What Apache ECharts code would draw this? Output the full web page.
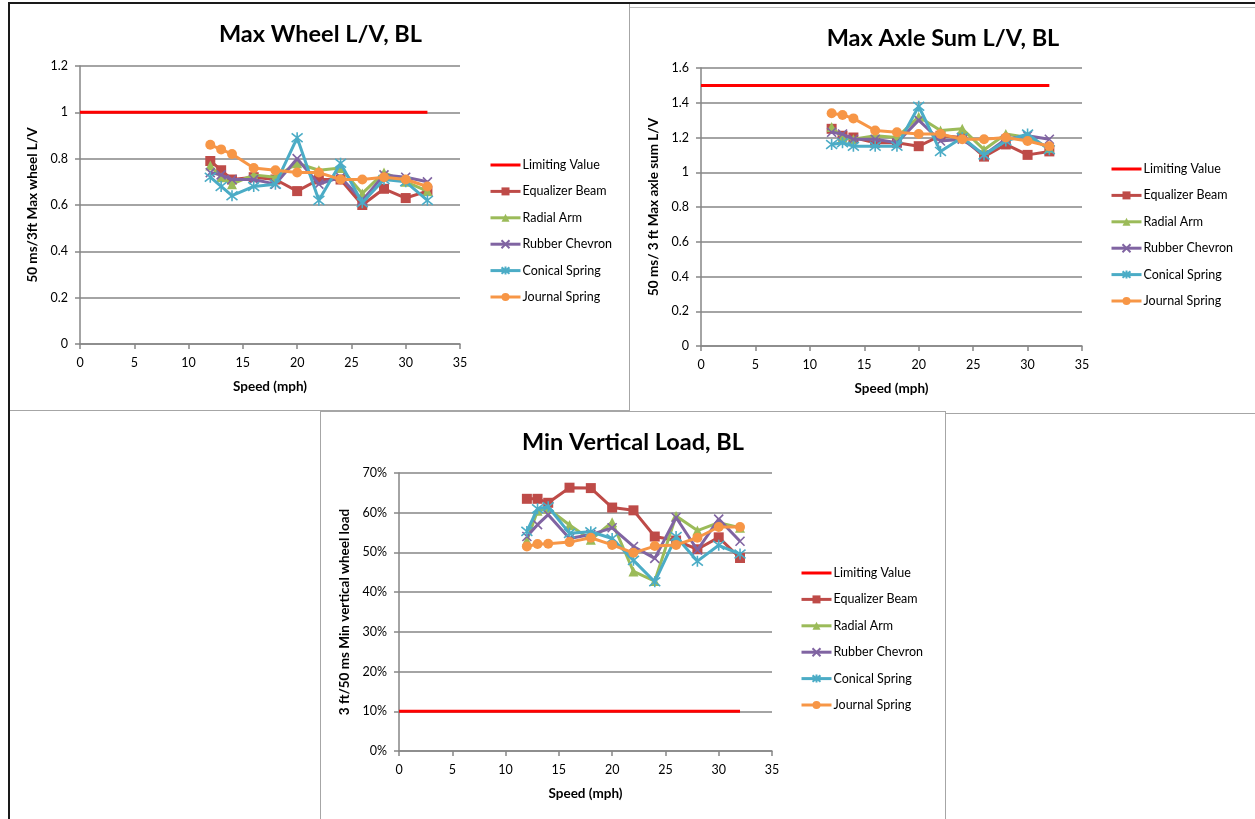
<!DOCTYPE html>
<html>
<head>
<meta charset="utf-8">
<title>Bogie ride quality, BL</title>
<script src="https://cdn.jsdelivr.net/npm/echarts@6/dist/echarts.min.js"></script>
<style>
  html, body { margin: 0; padding: 0; background: #fff; }
  body { width: 1255px; height: 819px; position: relative; overflow: hidden; }
  .chart { position: absolute; }
  .rule { position: absolute; }
</style>
</head>
<body>
<!-- sheet frame and chart object borders -->
<div class="rule" style="left:8px;top:2px;width:1247px;height:2px;background:#1a1a1a"></div>
<div class="rule" style="left:8px;top:2px;width:2px;height:817px;background:#1a1a1a"></div>
<div class="rule" style="left:629px;top:4px;width:1px;height:407px;background:#a6a6a6"></div>
<div class="rule" style="left:10px;top:410px;width:620px;height:1px;background:#a6a6a6"></div>
<div class="rule" style="left:630px;top:7px;width:625px;height:1px;background:#bdbdbd"></div>
<div class="rule" style="left:945px;top:413px;width:310px;height:1px;background:#a6a6a6"></div>
<div class="rule" style="left:320px;top:411px;width:626px;height:1px;background:#a6a6a6"></div>
<div class="rule" style="left:320px;top:411px;width:1px;height:408px;background:#a6a6a6"></div>
<div class="rule" style="left:945px;top:411px;width:1px;height:408px;background:#a6a6a6"></div>

<div id="wheel" class="chart" style="left:10px;top:4px;width:621px;height:405px"></div>
<div id="axle" class="chart" style="left:631px;top:8px;width:624px;height:404px"></div>
<div id="vload" class="chart" style="left:321px;top:412px;width:624px;height:407px"></div>

<script>
// Test speeds (mph) shared by every truck design
const speeds = [12, 13, 14, 16, 18, 20, 22, 24, 26, 28, 30, 32];
// The limit line is drawn from 0 to the top test speed
const limitSpeeds = [0, 32];

const seriesNames = ['Limiting Value', 'Equalizer Beam', 'Radial Arm', 'Rubber Chevron', 'Conical Spring', 'Journal Spring'];

// Max wheel L/V
const wheelLimit = 1.0;
const wheelEqualizer = [0.79, 0.75, 0.71, 0.72, 0.71, 0.66, 0.71, 0.71, 0.60, 0.67, 0.63, 0.66];
const wheelRadial    = [0.77, 0.72, 0.69, 0.73, 0.72, 0.78, 0.75, 0.76, 0.65, 0.74, 0.70, 0.66];
const wheelChevron   = [0.74, 0.73, 0.71, 0.71, 0.69, 0.80, 0.69, 0.72, 0.62, 0.73, 0.72, 0.70];
const wheelConical   = [0.72, 0.68, 0.64, 0.68, 0.69, 0.89, 0.62, 0.78, 0.61, 0.71, 0.70, 0.62];
const wheelJournal   = [0.86, 0.84, 0.82, 0.76, 0.75, 0.74, 0.74, 0.71, 0.71, 0.72, 0.71, 0.68];

// Max axle sum L/V
const axleLimit = 1.5;
const axleEqualizer = [1.25, 1.21, 1.20, 1.17, 1.17, 1.15, 1.21, 1.20, 1.09, 1.16, 1.10, 1.12];
const axleRadial    = [1.26, 1.20, 1.19, 1.21, 1.20, 1.32, 1.24, 1.25, 1.13, 1.22, 1.20, 1.14];
const axleChevron   = [1.23, 1.22, 1.19, 1.19, 1.17, 1.30, 1.18, 1.19, 1.10, 1.19, 1.21, 1.19];
const axleConical   = [1.16, 1.17, 1.15, 1.15, 1.15, 1.38, 1.12, 1.20, 1.10, 1.18, 1.22, 1.13];
const axleJournal   = [1.34, 1.33, 1.31, 1.24, 1.23, 1.22, 1.22, 1.19, 1.19, 1.20, 1.18, 1.15];

// Min vertical wheel load (% of static)
const loadLimit = 10;
const loadEqualizer = [63.5, 63.5, 62.5, 66.3, 66.2, 61.3, 60.6, 54.0, 53.0, 50.8, 53.8, 48.6];
const loadRadial    = [53.0, 60.5, 61.0, 56.9, 53.2, 57.6, 45.2, 42.8, 59.2, 55.5, 57.5, 56.2];
const loadChevron   = [54.0, 57.0, 59.5, 53.5, 54.5, 56.2, 51.5, 48.5, 58.8, 50.6, 58.4, 52.8];
const loadConical   = [55.3, 61.0, 61.5, 54.8, 55.2, 53.5, 48.0, 42.6, 54.0, 47.8, 51.8, 49.6];
const loadJournal   = [51.5, 52.1, 52.2, 52.6, 53.7, 51.9, 49.9, 51.6, 51.9, 53.7, 56.4, 56.4];

const FONT = 'Lato, "Liberation Sans", sans-serif';
const GRID_GRAY = '#868686';

// Office-style palette and markers per design
const designStyles = [
  { color: '#FF0000' },
  { color: '#BE4B48', symbol: 'rect', size: 10 },
  { color: '#9BBB59', symbol: 'triangle', size: 10 },
  { color: '#8064A2', symbol: 'path://M0,0L10,10M10,0L0,10', size: 9, stroke: true },
  { color: '#4BACC6', symbol: 'path://M0,1L10,9M10,1L0,9M5,0L5,10', size: 11, stroke: true },
  { color: '#F79646', symbol: 'circle', size: 10 }
];

function pairs(xs, ys) { return xs.map((x, i) => [x, ys[i]]); }

function buildSeries(limit, designs) {
  const list = [{
    name: seriesNames[0], type: 'line',
    data: pairs(limitSpeeds, [limit, limit]),
    symbol: 'none', lineStyle: { color: designStyles[0].color, width: 3 },
    itemStyle: { color: designStyles[0].color }, z: 2
  }];
  designs.forEach((vals, k) => {
    const st = designStyles[k + 1];
    list.push({
      name: seriesNames[k + 1], type: 'line',
      data: pairs(speeds, vals),
      symbol: st.symbol, symbolSize: st.size, showAllSymbol: true,
      lineStyle: { color: st.color, width: 3 },
      itemStyle: st.stroke
        ? { color: st.color, borderColor: st.color, borderWidth: 1.6 }
        : { color: st.color },
      z: 3 + k
    });
  });
  return list;
}

// Legend entries: the limit entry is a plain line with no marker
function legendData() {
  return seriesNames.map((n, i) => i === 0
    ? { name: n, itemStyle: { opacity: 0 } }
    : { name: n });
}

function buildOption(cfg) {
  return {
    animation: false,
    textStyle: { fontFamily: FONT },
    title: {
      text: cfg.title, left: 'center', top: 13,
      textStyle: { fontFamily: FONT, fontSize: 23.5, fontWeight: 'bold', color: '#000' }
    },
    grid: { left: cfg.gridLeft, top: cfg.gridTop, width: cfg.gridWidth, height: 278 },
    legend: {
      orient: 'vertical', left: 474, top: 149.5,
      itemWidth: 30, itemHeight: 10, itemGap: 13.4,
      data: legendData(),
      lineStyle: { width: 3 },
      textStyle: { fontFamily: FONT, fontSize: 12.5, color: '#000', padding: [0, 0, 0, -3] },
      selectedMode: false
    },
    xAxis: {
      type: 'value', min: 0, max: 35, interval: 5,
      name: 'Speed (mph)', nameLocation: 'middle', nameGap: 36,
      nameTextStyle: { fontFamily: FONT, fontSize: 13.5, fontWeight: 'bold', color: '#000' },
      axisLine: { show: true, lineStyle: { color: GRID_GRAY, width: 1.5 } },
      axisTick: { show: true, length: 5, lineStyle: { color: GRID_GRAY, width: 1.5 } },
      axisLabel: { fontFamily: FONT, fontSize: 12.5, color: '#000', margin: 12 },
      splitLine: { show: false }
    },
    yAxis: {
      type: 'value', min: 0, max: cfg.yMax, interval: cfg.yStep,
      name: cfg.yName, nameLocation: 'middle', nameGap: cfg.nameGap, nameRotate: 90,
      nameTextStyle: { fontFamily: FONT, fontSize: 13.5, fontWeight: 'bold', color: '#000' },
      axisLine: { show: true, lineStyle: { color: GRID_GRAY, width: 1.5 } },
      axisTick: { show: true, length: 5, lineStyle: { color: GRID_GRAY, width: 1.5 } },
      axisLabel: { fontFamily: FONT, fontSize: 12.5, color: '#000', margin: 12, formatter: cfg.yFmt },
      splitLine: { show: true, lineStyle: { color: GRID_GRAY, width: 1.5 } }
    },
    series: buildSeries(cfg.limit, cfg.designs)
  };
}

echarts.init(document.getElementById('wheel')).setOption(buildOption({
  title: 'Max Wheel L/V, BL',
  gridLeft: 70, gridTop: 62, gridWidth: 380,
  yMax: 1.2, yStep: 0.2, yName: '50 ms/3ft Max wheel L/V', nameGap: 36,
  limit: wheelLimit,
  designs: [wheelEqualizer, wheelRadial, wheelChevron, wheelConical, wheelJournal]
}));

echarts.init(document.getElementById('axle')).setOption(buildOption({
  title: 'Max Axle Sum L/V, BL',
  gridLeft: 70, gridTop: 60, gridWidth: 381,
  yMax: 1.6, yStep: 0.2, yName: '50 ms/ 3 ft Max axle sum L/V', nameGap: 36,
  limit: axleLimit,
  designs: [axleEqualizer, axleRadial, axleChevron, axleConical, axleJournal]
}));

echarts.init(document.getElementById('vload')).setOption(buildOption({
  title: 'Min Vertical Load, BL',
  gridLeft: 78, gridTop: 61, gridWidth: 373,
  yMax: 70, yStep: 10, yName: '3 ft/50 ms Min vertical wheel load', nameGap: 44,
  yFmt: '{value}%',
  limit: loadLimit,
  designs: [loadEqualizer, loadRadial, loadChevron, loadConical, loadJournal]
}));
</script>
</body>
</html>
